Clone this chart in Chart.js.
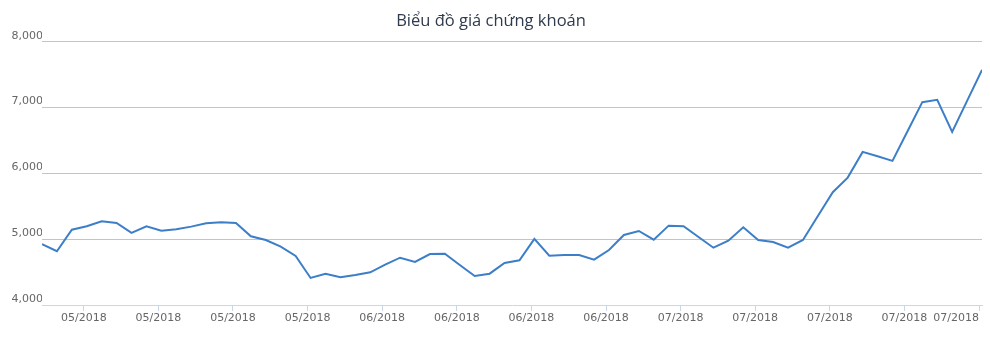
<!DOCTYPE html>
<html>
<head>
<meta charset="utf-8">
<script src="https://cdn.jsdelivr.net/npm/chart.js@4.4.1/dist/chart.umd.min.js"></script>
<style>
  html, body { margin: 0; padding: 0; background: #fff; }
  #wrap { width: 990px; height: 343px; }
</style>
</head>
<body>
<div id="wrap"><canvas id="stockChart"></canvas></div>
<script>
// Closing prices, one per trading session
const prices = [
    4923, 4817, 5145, 5197, 5273, 5247, 5095, 5197, 5130, 5151,
    5191, 5242, 5258, 5247, 5045, 4988, 4887, 4745, 4411, 4476,
    4421, 4456, 4497, 4613, 4719, 4654, 4775, 4780, 4608, 4441,
    4476, 4639, 4680, 5004, 4750, 4760, 4760, 4689, 4836, 5065,
    5125, 4993, 5206, 5197, 5034, 4871, 4978, 5181, 4988, 4958,
    4871, 4988, 5353, 5714, 5936, 6327, 6261, 6190, 6636, 7083,
    7118, 6631, 7103, 7574
];

// Weekly labels on the x axis
const tickLabels = [
    '05/2018', '05/2018', '05/2018', '05/2018',
    '06/2018', '06/2018', '06/2018', '06/2018',
    '07/2018', '07/2018', '07/2018', '07/2018', '07/2018'
];

const yTicks = [4000, 5000, 6000, 7000, 8000];

const chartTitle = 'Biểu đồ giá chứng khoán';

document.addEventListener('DOMContentLoaded', function() {
    const ctx = document.getElementById('stockChart');

    new Chart(ctx, {
        type: 'line',
        data: {
            datasets: [{
                label: 'Giá',
                data: prices.map((p, i) => ({ x: i, y: p })),
                borderColor: '#3d7ec8',
                borderWidth: 2,
                pointRadius: 0,
                tension: 0,
                fill: false
            }]
        },
        options: {
            responsive: true,
            maintainAspectRatio: false,
            animation: false,
            layout: {
                padding: { left: 0, right: 8, top: 0, bottom: 0 }
            },
            plugins: {
                legend: { display: false },
                tooltip: { enabled: false },
                title: {
                    display: true,
                    text: chartTitle,
                    color: '#2f3b4c',
                    font: { family: 'Open Sans', size: 16.5, weight: 'normal' },
                    padding: { top: 11, bottom: 11 }
                }
            },
            scales: {
                x: {
                    type: 'linear',
                    min: 0,
                    max: prices.length - 1,
                    afterBuildTicks: function(scale) {
                        // a blank tick at the left edge, then one tick per week
                        scale.ticks = [{ value: 0 }].concat(
                            tickLabels.map((_, i) => ({ value: 2.8 + 5 * i }))
                        );
                    },
                    afterFit: function(scale) {
                        scale.height = 38;
                        scale.paddingLeft = 0;
                        scale.paddingRight = 0;
                    },
                    grid: {
                        drawOnChartArea: false,
                        drawTicks: true,
                        tickLength: 6,
                        tickColor: ctx => ctx.index === 0 ? 'rgba(0,0,0,0)' : '#ccd6eb'
                    },
                    border: { display: true, color: '#ccd6eb', width: 1 },
                    ticks: {
                        autoSkip: false,
                        maxRotation: 0,
                        minRotation: 0,
                        align: 'inner',
                        padding: 1,
                        color: '#666666',
                        font: { family: 'DejaVu Sans', size: 11 },
                        callback: (v, i) => i === 0 ? '' : tickLabels[i - 1]
                    }
                },
                y: {
                    min: yTicks[0],
                    max: yTicks[yTicks.length - 1],
                    afterBuildTicks: function(scale) {
                        scale.ticks = yTicks.map(v => ({ value: v }));
                    },
                    afterFit: function(scale) {
                        scale.width = 42;
                        scale.paddingTop = 0;
                        scale.paddingBottom = 0;
                    },
                    grid: {
                        drawTicks: false,
                        color: ctx => ctx.tick && ctx.tick.value === yTicks[0] ? 'rgba(0,0,0,0)' : '#c4c4c4'
                    },
                    border: { display: false },
                    ticks: {
                        padding: -1,
                        labelOffset: -6,
                        color: '#666666',
                        font: { family: 'DejaVu Sans', size: 11 },
                        callback: v => v.toLocaleString('en-US')
                    }
                }
            }
        }
    });
});
</script>
</body>
</html>
